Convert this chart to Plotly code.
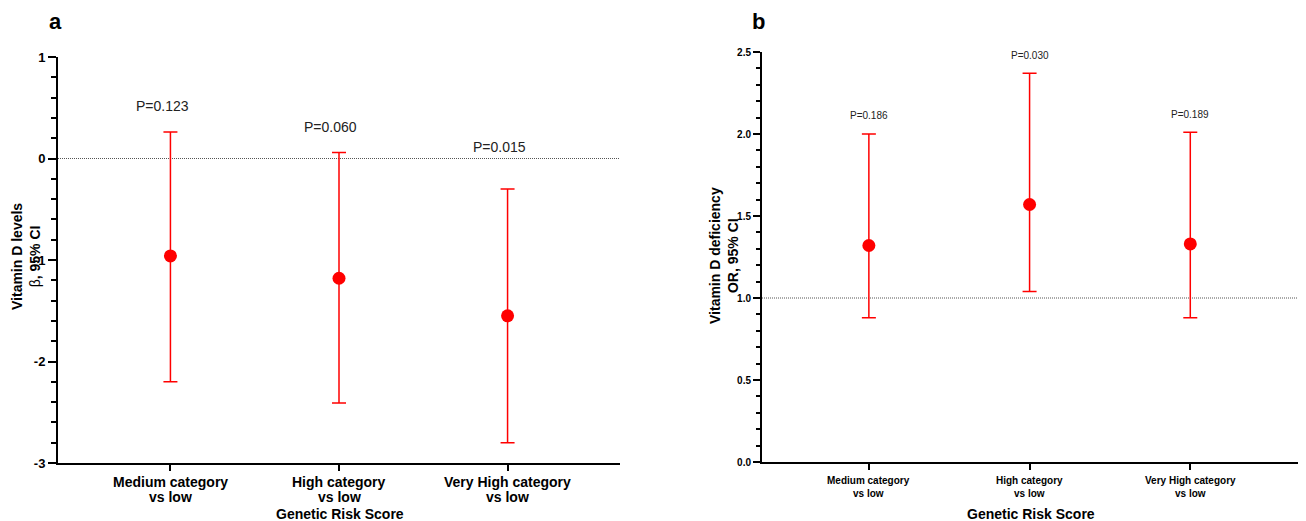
import plotly.graph_objects as go

# ---------------- data ----------------
cat_line1 = ["Medium category", "High category", "Very High category"]
cat_line2 = ["vs low", "vs low", "vs low"]

beta = [-0.96, -1.18, -1.55]
beta_lo = [-2.20, -2.41, -2.80]
beta_hi = [0.26, 0.06, -0.30]
p_a = ["P=0.123", "P=0.060", "P=0.015"]

or_est = [1.32, 1.57, 1.33]
or_lo = [0.88, 1.04, 0.88]
or_hi = [2.00, 2.37, 2.01]
p_b = ["P=0.186", "P=0.030", "P=0.189"]

yticks_a = [-3, -2, -1, 0, 1]
yticks_a_text = ["-3", "-2", "-1", "0", "1"]
yticks_b = [0.0, 0.5, 1.0, 1.5, 2.0, 2.5]
yticks_b_text = ["0.0", "0.5", "1.0", "1.5", "2.0", "2.5"]

# ---------------- figure ----------------
OFF = 8                      # default page (body) margin
W, H = 1306 - OFF, 521 - OFF
FONT = "Arial, Liberation Sans, sans-serif"
RED = "#ff0000"
xs = list(range(len(cat_line1)))


def px_x(p):
    return (p - OFF) / W


def px_y(p):
    return 1 - (p - OFF) / H


fig = go.Figure()

fig.add_trace(go.Scatter(
    x=xs, y=beta, mode="markers", xaxis="x", yaxis="y",
    marker=dict(color=RED, size=13),
    error_y=dict(type="data", symmetric=False,
                 array=[h - b for h, b in zip(beta_hi, beta)],
                 arrayminus=[b - l for b, l in zip(beta, beta_lo)],
                 color=RED, thickness=1.5, width=7),
    showlegend=False, cliponaxis=False,
))

fig.add_trace(go.Scatter(
    x=xs, y=or_est, mode="markers", xaxis="x2", yaxis="y2",
    marker=dict(color=RED, size=13),
    error_y=dict(type="data", symmetric=False,
                 array=[h - b for h, b in zip(or_hi, or_est)],
                 arrayminus=[b - l for b, l in zip(or_est, or_lo)],
                 color=RED, thickness=1.5, width=7),
    showlegend=False, cliponaxis=False,
))

axis_common = dict(showline=True, linecolor="black", linewidth=2,
                   showgrid=False, zeroline=False, ticks="outside",
                   tickcolor="black", tickwidth=2, automargin=False)

fig.update_layout(
    width=W, height=H,
    margin=dict(l=0, r=0, t=0, b=0),
    paper_bgcolor="white", plot_bgcolor="white",
    font=dict(family=FONT, color="black"),
    xaxis=dict(domain=[px_x(58), px_x(620)], range=[-0.667, 2.667],
               tickvals=xs, showticklabels=False, ticklen=6, anchor="y",
               **axis_common),
    yaxis=dict(domain=[px_y(463), px_y(57)], range=[-3, 1],
               tickvals=yticks_a, ticktext=yticks_a_text, ticklen=8,
               tickfont=dict(size=13, weight="bold"), anchor="x",
               minor=dict(dtick=0.2, tick0=0, ticks="outside", ticklen=5,
                          tickwidth=2, tickcolor="black"),
               **axis_common),
    xaxis2=dict(domain=[px_x(762), 1.0], range=[-0.665, 2.72],
                tickvals=xs, showticklabels=False, ticklen=6, anchor="y2",
                **axis_common),
    yaxis2=dict(domain=[px_y(462), px_y(52)], range=[0, 2.5],
                tickvals=yticks_b, ticktext=yticks_b_text, ticklen=7,
                tickfont=dict(size=10, weight="bold"), anchor="x2",
                minor=dict(dtick=0.1, tick0=0, ticks="outside", ticklen=4,
                           tickwidth=2, tickcolor="black"),
                **axis_common),
)

# reference lines
fig.add_shape(type="line", xref="x domain", yref="y", x0=0, x1=1, y0=0, y1=0,
              line=dict(color="#555", width=1, dash="1px,1px"), layer="below")
fig.add_shape(type="line", xref="x2 domain", yref="y2", x0=0, x1=1, y0=1, y1=1,
              line=dict(color="#555", width=1, dash="1px,1px"), layer="below")

ann = []


def add_text(x, y, text, size, xref="paper", yref="paper", angle=0, color="black"):
    ann.append(dict(x=x, y=y, xref=xref, yref=yref, text=text, showarrow=False,
                    xanchor="center", yanchor="middle", textangle=angle,
                    font=dict(size=size, color=color, family=FONT)))


# category labels (two lines, tight spacing as in the original)
for i in xs:
    add_text(i, px_y(482), "<b>%s</b>" % cat_line1[i], 14, xref="x")
    add_text(i, px_y(497), "<b>%s</b>" % cat_line2[i], 14, xref="x")
    add_text(i, px_y(480), "<b>%s</b>" % cat_line1[i], 10, xref="x2")
    add_text(i, px_y(493), "<b>%s</b>" % cat_line2[i], 10, xref="x2")

# P-values panel a (staggered placement)
label_y_a = [0.52, 0.31, 0.11]
for i, t in enumerate(p_a):
    add_text(i - 0.05, label_y_a[i], t, 14, xref="x", yref="y", color="#222")
# P-values panel b (above upper CI)
for i, t in enumerate(p_b):
    add_text(i, or_hi[i] + 0.11, t, 10, xref="x2", yref="y2", color="#222")

# axis titles
add_text(px_x(340), px_y(514), "<b>Genetic Risk Score</b>", 14)
add_text(px_x(1031), px_y(514), "<b>Genetic Risk Score</b>", 14)
add_text(px_x(26), px_y(257), "<b>Vitamin D levels</b><br>β<b>, 95% CI</b>", 14, angle=-90)
add_text(px_x(724), px_y(256), "<b>Vitamin D deficiency</b><br><b>OR, 95% CI</b>", 14, angle=-90)

# panel letters
add_text(px_x(55), px_y(21), "<b>a</b>", 22)
add_text(px_x(758), px_y(21), "<b>b</b>", 22)

fig.update_layout(annotations=ann)

fig.write_html("out.html")
